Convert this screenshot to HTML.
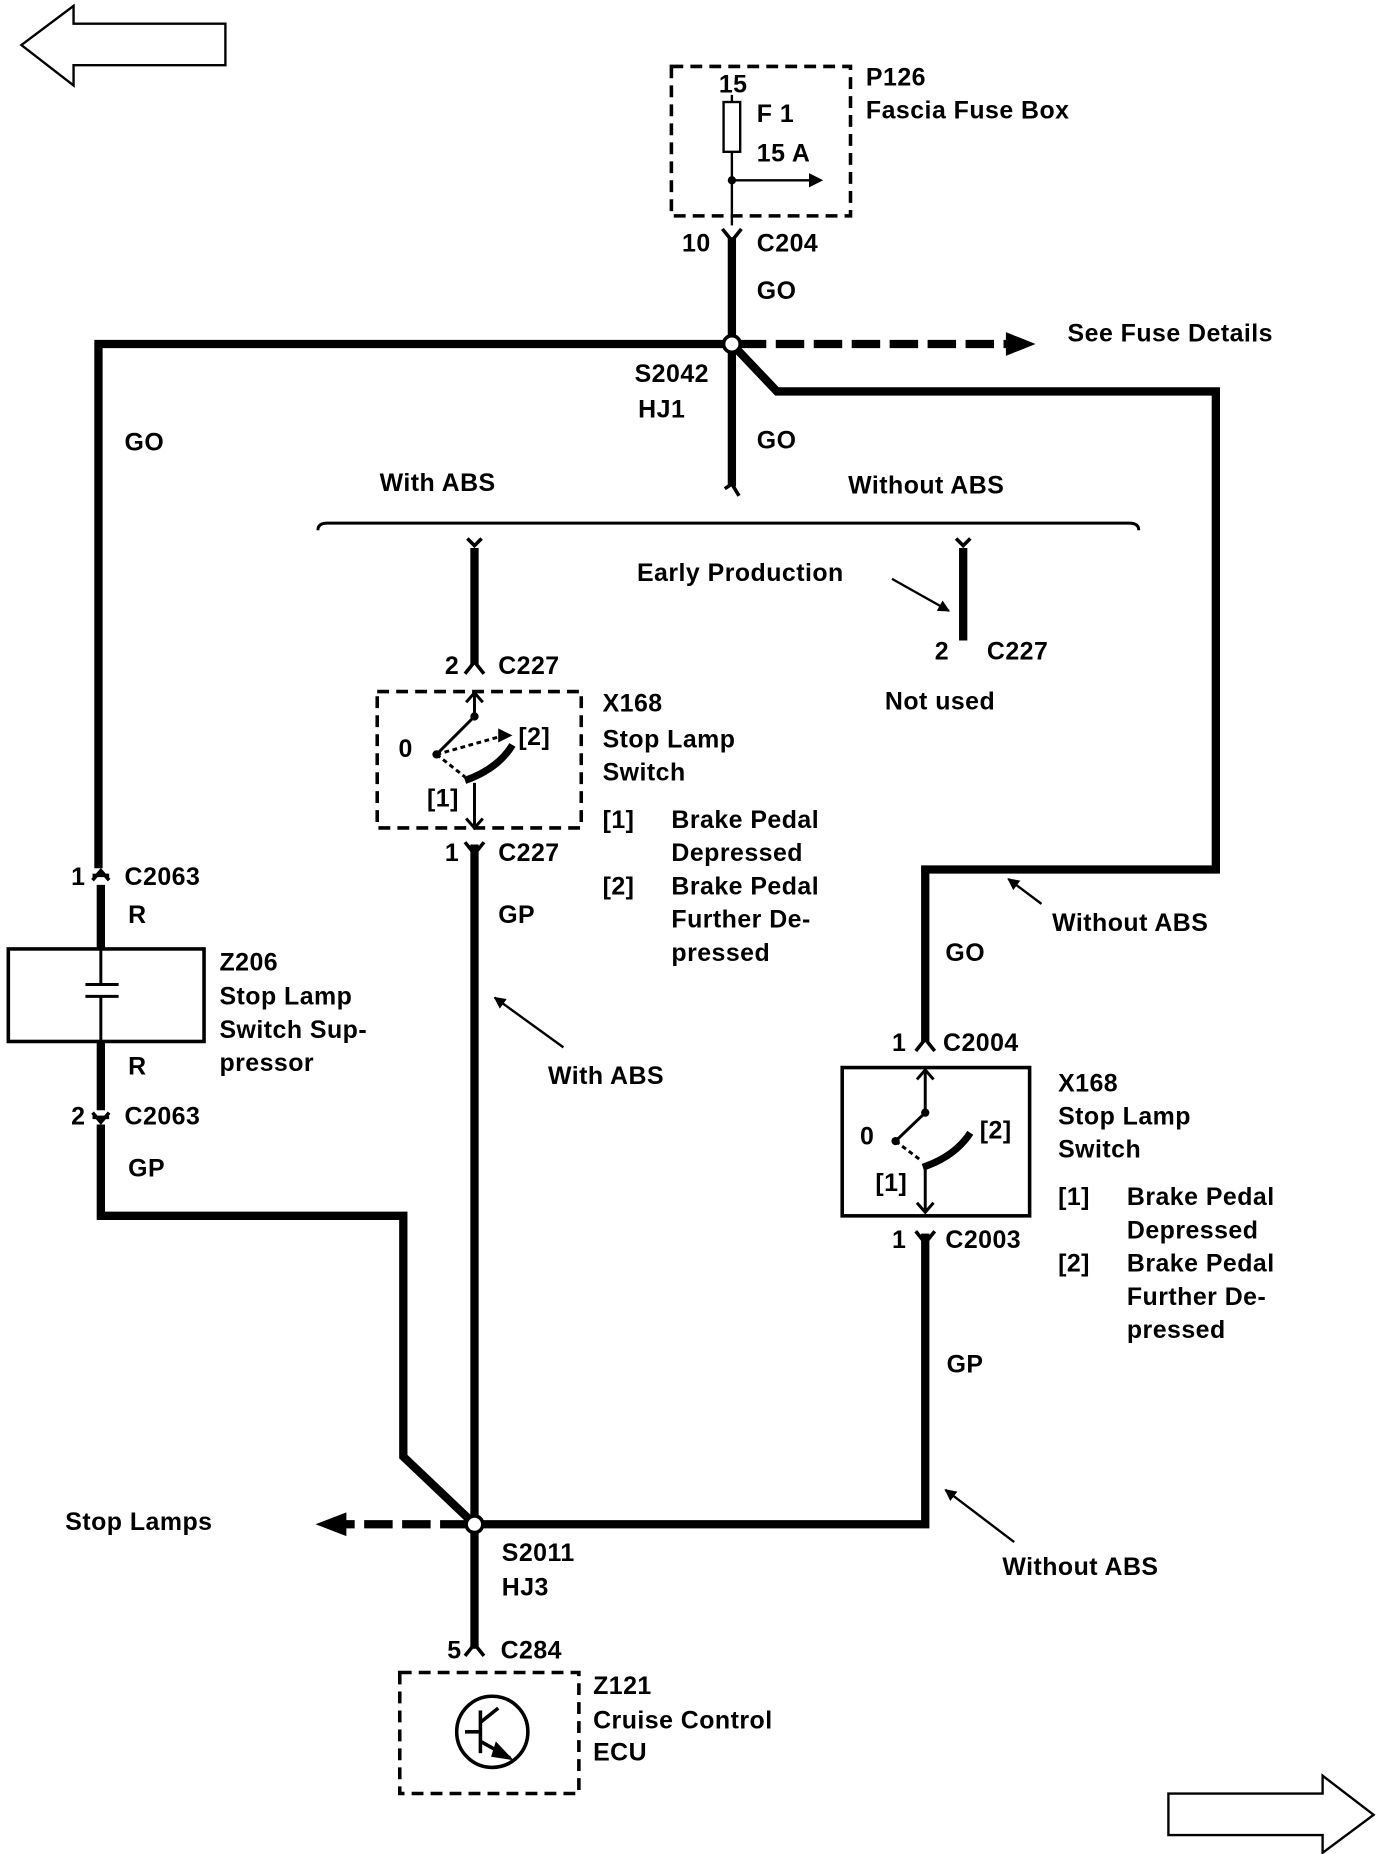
<!DOCTYPE html>
<html><head><meta charset="utf-8"><style>
html,body{margin:0;padding:0;background:#fff;}
svg{display:block}
text{font-family:"Liberation Sans",sans-serif;font-weight:bold;font-size:21px;fill:#000;letter-spacing:0.4px}
</style></head><body>
<svg width="1376" height="1854" viewBox="0 0 1160 1563" xmlns="http://www.w3.org/2000/svg">
<defs>
<marker id="ah" markerWidth="10" markerHeight="10" refX="9" refY="5" orient="auto" markerUnits="userSpaceOnUse"><path d="M0,0 L10,5 L0,10 z" fill="#000"/></marker>
</defs>
<path d="M18,38 L62,5 L62,20 L190,20 L190,55 L62,55 L62,72 Z" fill="#fff" stroke="#000" stroke-width="2"/>
<path d="M1158,1530 L1115,1497 L1115,1512 L985,1512 L985,1547 L1115,1547 L1115,1562 Z" fill="#fff" stroke="#000" stroke-width="2"/>

<rect x="566" y="56" width="151" height="126" fill="none" stroke="#000" stroke-width="3" stroke-dasharray="10,6"/>
<rect x="610" y="86" width="14" height="42" fill="#fff" stroke="#000" stroke-width="2"/>
<line x1="617" y1="80" x2="617" y2="86" stroke="#000" stroke-width="2"/>
<line x1="617" y1="128" x2="617" y2="190" stroke="#000" stroke-width="2"/>
<circle cx="617" cy="152" r="3.5"/>
<line x1="617" y1="152" x2="690" y2="152" stroke="#000" stroke-width="2"/>
<path d="M682,146 L694,152 L682,158 z"/>
<text x="606" y="78">15</text><text x="638" y="103">F 1</text><text x="638" y="136">15 A</text>
<text x="730" y="72">P126</text><text x="730" y="100">Fascia Fuse Box</text>

<g fill="none" stroke="#000" stroke-width="7">
<path d="M617,200 L617,410"/>
<path d="M617,290 L83,290 L83,732"/>
<path d="M617,290 L655,330 L1025,330 L1025,733 L780,733 L780,878"/>
<path d="M400,462 L400,560"/>
<path d="M400,712 L400,1390"/>
<path d="M812,462 L812,540"/>
<path d="M85,948 L85,1025 L340,1025 L340,1228 L400,1285"/>
<path d="M780,1040 L780,1285 L400,1285"/>
<path d="M85,746 L85,800 M85,878 L85,936"/>
</g>
<g stroke="#000" stroke-width="7" fill="none" stroke-dasharray="24,8">
<path d="M622,290 L850,290"/>
<path d="M395,1285 L290,1285"/>
</g>
<path d="M848,280 L873,290 L848,300 z"/>
<path d="M292,1275 L266,1285 L292,1295 z"/>
<circle cx="617" cy="290" r="7" fill="#fff" stroke="#000" stroke-width="3"/>
<circle cx="400" cy="1285" r="7" fill="#fff" stroke="#000" stroke-width="3"/>

<g stroke="#000" stroke-width="3" fill="none">
<path d="M609,193 L617,203 L625,193"/>
<path d="M611,412 L617,408 L623,418"/>
<path d="M394,454 L400,460 L406,454"/>
<path d="M806,454 L812,460 L818,454"/>
<path d="M392,568 L400,558 L408,568"/>
<path d="M392,710 L400,720 L408,710"/>
<path d="M772,886 L780,876 L788,886"/>
<path d="M772,1038 L780,1048 L788,1038"/>
<path d="M392,1396 L400,1386 L408,1396"/>
<path d="M78,742 L85,734 L92,742 M78,738 L92,738"/>
<path d="M78,938 L85,946 L92,938 M78,942 L92,942"/>
</g>

<path d="M268,447 Q268,441 276,441 L952,441 Q960,441 960,447" fill="none" stroke="#000" stroke-width="2.5"/>

<text x="575" y="212">10</text><text x="638" y="212">C204</text>
<text x="638" y="252">GO</text>
<text x="900" y="288">See Fuse Details</text>
<text x="535" y="322">S2042</text><text x="538" y="352">HJ1</text>
<text x="638" y="378">GO</text><text x="105" y="380">GO</text>
<text x="320" y="414">With ABS</text><text x="715" y="416">Without ABS</text>
<text x="537" y="490">Early Production</text>
<line x1="752" y1="488" x2="800" y2="515" stroke="#000" stroke-width="2" marker-end="url(#ah)"/>
<text x="788" y="556">2</text><text x="832" y="556">C227</text>
<text x="746" y="598">Not used</text>

<rect x="318" y="583" width="172" height="115" fill="none" stroke="#000" stroke-width="3" stroke-dasharray="10,6"/>
<g stroke="#000" stroke-width="2.5" fill="none">
<path d="M400,586 L400,604"/>
<path d="M368,636 L400,604"/>
<path d="M368,636 L425,620" stroke-dasharray="4,3"/>
<path d="M368,636 L392,655" stroke-dasharray="4,3"/>
<path d="M400,660 L400,696"/>
<path d="M393,592 L400,584 L407,592 M393,690 L400,698 L407,690"/>
</g>
<path d="M420,614 L432,620 L420,626 z"/>
<path d="M392,658 Q420,648 432,628" stroke="#000" stroke-width="6" fill="none"/>
<circle cx="368" cy="636" r="3.5"/><circle cx="400" cy="604" r="3.5"/>
<text x="336" y="638">0</text><text x="437" y="628">[2]</text><text x="360" y="680">[1]</text>
<text x="375" y="568">2</text><text x="420" y="568">C227</text>
<text x="375" y="726">1</text><text x="420" y="726">C227</text>
<text x="508" y="600">X168</text><text x="508" y="630">Stop Lamp</text><text x="508" y="658">Switch</text>
<text x="508" y="698">[1]</text><text x="566" y="698">Brake Pedal</text><text x="566" y="726">Depressed</text>
<text x="508" y="754">[2]</text><text x="566" y="754">Brake Pedal</text><text x="566" y="782">Further De-</text><text x="566" y="810">pressed</text>
<text x="420" y="778">GP</text>
<line x1="475" y1="883" x2="417" y2="841" stroke="#000" stroke-width="2" marker-end="url(#ah)"/>
<text x="462" y="914">With ABS</text>

<text x="60" y="746">1</text><text x="105" y="746">C2063</text>
<text x="108" y="778">R</text>
<rect x="7" y="800" width="165" height="78" fill="#fff" stroke="#000" stroke-width="3"/>
<g stroke="#000" stroke-width="2.5">
<line x1="85" y1="800" x2="85" y2="830"/><line x1="85" y1="840" x2="85" y2="878"/>
<line x1="72" y1="830" x2="100" y2="830"/><line x1="72" y1="840" x2="100" y2="840"/>
</g>
<text x="185" y="818">Z206</text><text x="185" y="847">Stop Lamp</text><text x="185" y="875">Switch Sup-</text><text x="185" y="903">pressor</text>
<text x="108" y="906">R</text>
<text x="60" y="948">2</text><text x="105" y="948">C2063</text>
<text x="108" y="992">GP</text>

<line x1="878" y1="762" x2="850" y2="741" stroke="#000" stroke-width="2" marker-end="url(#ah)"/>
<text x="887" y="785">Without ABS</text>
<text x="797" y="810">GO</text>
<text x="752" y="886">1</text><text x="795" y="886">C2004</text>
<rect x="710" y="900" width="158" height="125" fill="none" stroke="#000" stroke-width="3"/>
<g stroke="#000" stroke-width="2.5" fill="none">
<path d="M780,902 L780,938"/>
<path d="M755,962 L780,938"/>
<path d="M755,962 L776,978" stroke-dasharray="4,3"/>
<path d="M780,985 L780,1022"/>
<path d="M773,910 L780,902 L787,910 M773,1014 L780,1022 L787,1014"/>
</g>
<path d="M778,984 Q805,975 818,955" stroke="#000" stroke-width="6" fill="none"/>
<circle cx="755" cy="962" r="3.5"/><circle cx="780" cy="938" r="3.5"/>
<text x="725" y="965">0</text><text x="826" y="960">[2]</text><text x="738" y="1004">[1]</text>
<text x="892" y="920">X168</text><text x="892" y="948">Stop Lamp</text><text x="892" y="976">Switch</text>
<text x="892" y="1016">[1]</text><text x="950" y="1016">Brake Pedal</text><text x="950" y="1044">Depressed</text>
<text x="892" y="1072">[2]</text><text x="950" y="1072">Brake Pedal</text><text x="950" y="1100">Further De-</text><text x="950" y="1128">pressed</text>
<text x="752" y="1052">1</text><text x="797" y="1052">C2003</text>
<text x="798" y="1157">GP</text>
<line x1="855" y1="1300" x2="797" y2="1256" stroke="#000" stroke-width="2" marker-end="url(#ah)"/>
<text x="845" y="1328">Without ABS</text>

<text x="55" y="1290">Stop Lamps</text>
<text x="423" y="1316">S2011</text><text x="423" y="1345">HJ3</text>
<text x="377" y="1398">5</text><text x="422" y="1398">C284</text>
<rect x="337" y="1410" width="151" height="102" fill="none" stroke="#000" stroke-width="3" stroke-dasharray="10,6"/>
<circle cx="415" cy="1460" r="30" fill="none" stroke="#000" stroke-width="3"/>
<g stroke="#000" stroke-width="3" fill="none">
<line x1="405" y1="1442" x2="405" y2="1478"/>
<line x1="405" y1="1460" x2="392" y2="1460"/>
<line x1="405" y1="1452" x2="420" y2="1440"/>
<line x1="405" y1="1468" x2="430" y2="1482"/>
</g>
<path d="M418,1468 L433,1484 L414,1481 z"/>
<text x="500" y="1428">Z121</text><text x="500" y="1457">Cruise Control</text><text x="500" y="1484">ECU</text>
</svg>
</body></html>
